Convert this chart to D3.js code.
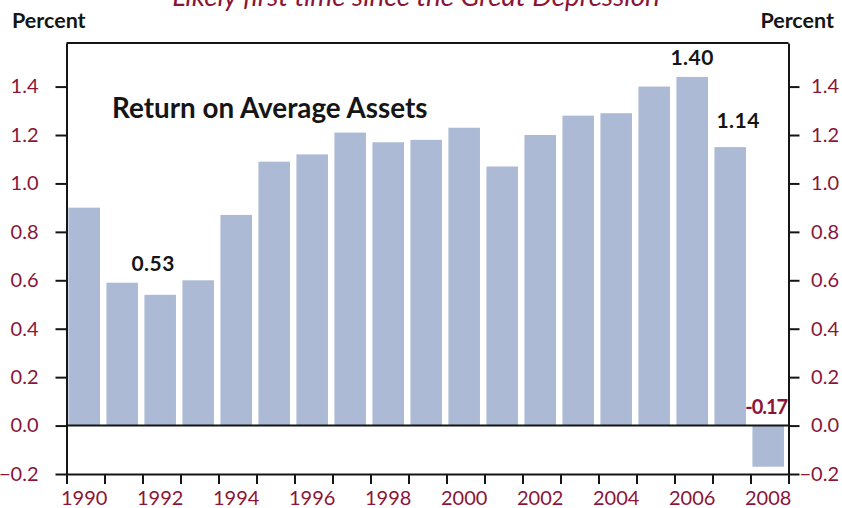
<!DOCTYPE html>
<html>
<head>
<meta charset="UTF-8">
<title>Return on Average Assets</title>
<script src="https://cdn.jsdelivr.net/npm/d3@7"></script>
<style>
  body { margin: 0; background: #fff; }
  svg { display: block; }
</style>
</head>
<body>
<div id="chart"></div>
<script>

// data

var years = [1990, 1991, 1992, 1993, 1994, 1995, 1996, 1997, 1998, 1999,
             2000, 2001, 2002, 2003, 2004, 2005, 2006, 2007, 2008]
var roa   = [0.90, 0.59, 0.54, 0.60, 0.87, 1.09, 1.12, 1.21, 1.17, 1.18,
             1.23, 1.07, 1.20, 1.28, 1.29, 1.40, 1.44, 1.15, -0.17]

var yTicks     = [-0.2, 0.0, 0.2, 0.4, 0.6, 0.8, 1.0, 1.2, 1.4]
var yearLabels = [1990, 1992, 1994, 1996, 1998, 2000, 2002, 2004, 2006, 2008]

var calloutYears = [1992, 2006, 2007, 2008]
var calloutText  = ["0.53", "1.40", "1.14", "-0.17"]

var title    = "Return on Average Assets"
var subtitle = "Likely first time since the Great Depression"
var yTitle   = "Percent"

// layout

var width   = 842
var height  = 508
var plotL   = 66.5
var plotR   = 788.5
var plotTop = 43
var plotBot = 474

var maroon   = "#8a1538"
var ink      = "#151515"
var barColor = "#adbad5"
var font     = "Lato, 'Open Sans', sans-serif"

var svg = d3.select("#chart").append("svg")
  .attr("width", width)
  .attr("height", height)
  .style("font-family", font)

var y = d3.scaleLinear().domain([-0.2, 1.58]).range([plotBot, plotTop])

var x = d3.scaleBand()
  .domain(years)
  .range([plotL, plotR])
  .paddingInner(0.17)
  .paddingOuter(0.085)
  .align(0.3)

// year boundaries for the bottom ticks
var xEdge = d3.scaleLinear().domain([1990, 2009]).range([plotL, plotR])

// bars
svg.append("g").selectAll("rect")
  .data(years)
  .join("rect")
    .attr("x", function(d) { return x(d) })
    .attr("width", x.bandwidth())
    .attr("y", function(d, i) { return y(Math.max(0, roa[i])) })
    .attr("height", function(d, i) { return Math.abs(y(roa[i]) - y(0)) })
    .attr("fill", barColor)

// zero line and top frame
svg.append("line")
  .attr("x1", plotL).attr("x2", plotR)
  .attr("y1", y(0)).attr("y2", y(0))
  .attr("stroke", ink).attr("stroke-width", 2)

svg.append("line")
  .attr("x1", plotL).attr("x2", plotR)
  .attr("y1", plotTop).attr("y2", plotTop)
  .attr("stroke", ink).attr("stroke-width", 2)

function styleAxis(g) {
  g.selectAll("path, line").attr("stroke", ink).attr("stroke-width", 2)
  g.selectAll("text")
    .attr("fill", maroon)
    .style("font-family", font)
    .style("font-size", "20px")
}

svg.append("g")
  .attr("transform", "translate(" + plotL + ",0)")
  .call(d3.axisLeft(y).tickValues(yTicks).tickSize(11).tickSizeOuter(0)
    .tickPadding(17).tickFormat(d3.format(".1f")))
  .call(styleAxis)

// right-hand labels sit flush right against the page edge
svg.append("g")
  .attr("transform", "translate(" + plotR + ",0)")
  .call(d3.axisRight(y).tickValues(yTicks).tickSize(11).tickSizeOuter(0)
    .tickFormat(d3.format(".1f")))
  .call(styleAxis)
  .call(function(g) {
    g.selectAll("text").attr("x", 839 - plotR).attr("text-anchor", "end")
  })

svg.append("g")
  .attr("transform", "translate(0," + plotBot + ")")
  .call(d3.axisBottom(xEdge).tickValues(d3.range(1990, 2010)).tickSize(10)
    .tickSizeOuter(0).tickFormat(""))
  .call(styleAxis)

// year labels centred on the bars
svg.append("g").selectAll("text")
  .data(yearLabels)
  .join("text")
    .attr("x", function(d) { return x(d) + x.bandwidth() / 2 })
    .attr("y", 505)
    .attr("text-anchor", "middle")
    .attr("fill", maroon)
    .style("font-size", "20px")
    .text(function(d) { return d })

// value callouts
var nudge = { 1992: [-7, -24], 2006: [0, -12], 2007: [8, -19], 2008: [-2, -12] }

svg.append("g").selectAll("text")
  .data(calloutYears)
  .join("text")
    .attr("x", function(d) { return x(d) + x.bandwidth() / 2 + nudge[d][0] })
    .attr("y", function(d) {
      var v = roa[years.indexOf(d)]
      return y(Math.max(0, v)) + nudge[d][1]
    })
    .attr("text-anchor", "middle")
    .attr("fill", function(d, i) { return calloutText[i][0] == "-" ? maroon : ink })
    .style("font-size", function(d, i) { return calloutText[i][0] == "-" ? "20px" : "21px" })
    .style("font-weight", "bold")
    .style("letter-spacing", function(d, i) { return calloutText[i][0] == "-" ? "-1px" : "0.5px" })
    .text(function(d, i) { return calloutText[i] })

// titles
svg.append("text")
  .attr("x", 112).attr("y", 118)
  .attr("fill", ink)
  .style("font-size", "27.8px")
  .style("font-weight", "bold")
  .text(title)

svg.append("text")
  .attr("x", 416).attr("y", 6)
  .attr("text-anchor", "middle")
  .attr("fill", maroon)
  .style("font-size", "27.8px")
  .style("font-style", "italic")
  .text(subtitle)

svg.append("text")
  .attr("x", 12).attr("y", 28)
  .attr("fill", ink)
  .style("font-size", "21.5px")
  .style("font-weight", "bold")
  .text(yTitle)

svg.append("text")
  .attr("x", 834).attr("y", 28)
  .attr("text-anchor", "end")
  .attr("fill", ink)
  .style("font-size", "21.5px")
  .style("font-weight", "bold")
  .text(yTitle)

</script>
</body>
</html>
